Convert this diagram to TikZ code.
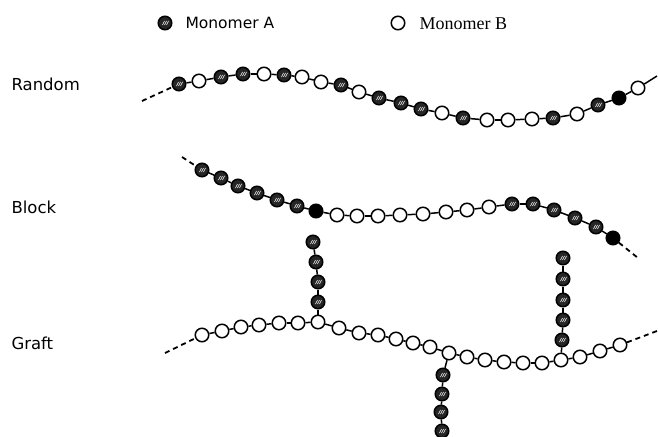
\documentclass[tikz,border=0pt]{standalone}
\usepackage{fontspec}
\setmainfont{Liberation Serif}
\newfontfamily\labelfont{DejaVu Sans}
\usetikzlibrary{positioning}
\tikzset{bead/.style={circle,draw=black,line width=1.5pt,minimum size=13.5pt,inner sep=0pt},
  ma/.style={bead,fill=black!85,path picture={
    \draw[white!55,line width=.6pt] ([shift={(-2.5pt,-2pt)}]path picture bounding box.center)--++(2pt,4pt)
      ([shift={(-.5pt,-2pt)}]path picture bounding box.center)--++(2pt,4pt)
      ([shift={(1.5pt,-2pt)}]path picture bounding box.center)--++(2pt,4pt);}},
  ms/.style={bead,fill=black},
  mb/.style={bead,fill=white},
  bond/.style={line width=1.5pt,draw=black},
  tail/.style={bond,line width=1.8pt,dash pattern=on 5pt off 4pt},
  rowlabel/.style={anchor=west,font=\labelfont\fontsize{16.5}{18}\selectfont}}
\begin{document}
\begin{tikzpicture}[x=1pt,y=-1pt]
\useasboundingbox (0,0) rectangle (658,436);
\clip (0,0) rectangle (658,436);
% legend
\node[ma] (keya) at (165,23) {};
\node[anchor=west,font=\labelfont\fontsize{15.5}{17}\selectfont] (texta) at (182,23) {Monomer A};
\node[mb] (keyb) at (398,23) {};
\node[anchor=west,font=\fontsize{18}{20}\selectfont] (textb) at (416,24) {Monomer B};
% row labels
\node[rowlabel] (lrandom) at (8,84) {Random};
\node[rowlabel] (lblock) at (8,207) {Block};
\node[rowlabel] (lgraft) at (8,343) {Graft};
% random copolymer
\coordinate (r0) at (142,101);
\coordinate (rend) at (657,76);
\foreach \x/\y/\t [count=\i] in {179/84/ma,199/81/mb,221/77/ma,243/74/ma,264/74/mb,284/75/ma,
  302/77/mb,321/82/mb,341/85/ma,359/92/mb,379/98/ma,401/103/ma,421/109/ma,442/113/mb,463/118/ma,
  487/120/mb,508/120/mb,532/119/mb,553/118/ma,577/114/mb,598/105/ma,619/98/ms,638/88/mb}
  \node[\t] (r\i) at (\x,\y) {};
\draw[tail] (r0) -- (r1);
\foreach \i [remember=\i as \j (initially 1)] in {2,...,23} \draw[bond] (r\j) -- (r\i);
\draw[bond] (r23) -- (rend);
% block copolymer
\coordinate (b0) at (182,157);
\coordinate (bend) at (638,258);
\foreach \x/\y/\t [count=\i] in {202/170/ma,221/178/ma,238/186/ma,257/193/ma,277/200/ma,297/206/ma,
  316/211/ms,337/215/mb,357/216/mb,378/216/mb,400/215/mb,423/214/mb,446/212/mb,467/210/mb,
  489/207/mb,512/204/ma,533/204/ma,554/210/ma,575/218/ma,596/227/ma,613/238/ms}
  \node[\t] (b\i) at (\x,\y) {};
\draw[tail] (b0) -- (b1);
\foreach \i [remember=\i as \j (initially 1)] in {2,...,21} \draw[bond] (b\j) -- (b\i);
\draw[tail] (b21) -- (bend);
% graft copolymer: backbone of B
\coordinate (g0) at (165,353);
\coordinate (gend) at (657,331);
\foreach \x/\y [count=\i] in {202/335,222/331,241/327,259/325,279/323,298/323,318/322,339/328,
  359/333,378/335,396/339,413/343,430/347,449/353,467/357,485/360,504/362,523/363,542/363,
  561/360,580/357,600/351,620/345}
  \node[mb] (g\i) at (\x,\y) {};
\draw[tail] (g0) -- (g1);
\foreach \i [remember=\i as \j (initially 1)] in {2,...,23} \draw[bond] (g\j) -- (g\i);
\draw[tail] (g23) -- (gend);
% grafted branches of A
\foreach \x/\y [count=\i] in {313/242,316/262,318/282,318/302} \node[ma] (u\i) at (\x,\y) {};
\foreach \i [remember=\i as \j (initially 1)] in {2,...,4} \draw[bond] (u\j) -- (u\i);
\draw[bond] (u4) -- (g7);
\foreach \x/\y [count=\i] in {443/375,442/394,441/412,442/431} \node[ma] (d\i) at (\x,\y) {};
\draw[bond] (g14) -- (d1);
\foreach \i [remember=\i as \j (initially 1)] in {2,...,4} \draw[bond] (d\j) -- (d\i);
\foreach \x/\y [count=\i] in {563/258,563/279,563/300,563/320,562/340} \node[ma] (v\i) at (\x,\y) {};
\foreach \i [remember=\i as \j (initially 1)] in {2,...,5} \draw[bond] (v\j) -- (v\i);
\draw[bond] (v5) -- (g20);
\end{tikzpicture}
\end{document}
